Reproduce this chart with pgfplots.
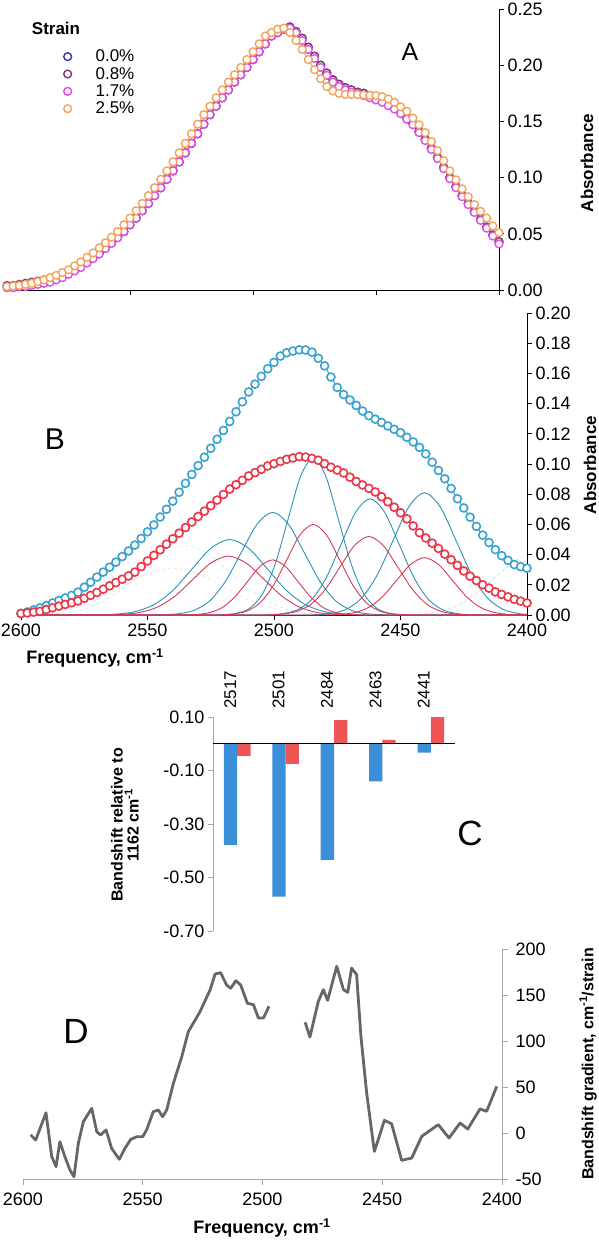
\documentclass[border=0pt]{standalone}
\usepackage{fontspec}
\setmainfont{Liberation Sans}
\usepackage{pgfplots}
\usepackage{pgfplotstable}
\pgfplotsset{compat=1.18}
\pgfplotsset{/pgf/number format/assume math mode=true, /pgf/number format/1000 sep={}}
\definecolor{cA0}{HTML}{3535B0}
\definecolor{cA1}{HTML}{7E3A72}
\definecolor{cA2}{HTML}{E04CE0}
\definecolor{cA3}{HTML}{F2A55A}
\definecolor{bBlue}{HTML}{3AA2CE}
\definecolor{bRed}{HTML}{EC3546}
\definecolor{cmpB}{HTML}{2A92B4}
\definecolor{cmpR}{HTML}{D43A5C}
\definecolor{barB}{HTML}{3A8FD8}
\definecolor{barR}{HTML}{F05555}
\definecolor{dline}{HTML}{666666}
\definecolor{dax}{HTML}{A6A6A6}

\pgfplotstableread{
f s00 s08 s17 s25
2600 .003 .004 .002 .003
2597.5 .003 .004 .002 .0035
2595 .0035 .005 .003 .004
2592.5 .004 .006 .003 .005
2590 .005 .007 .004 .006
2587.5 .006 .008 .005 .0075
2585 .0075 .009 .006 .009
2582.5 .009 .010 .007 .011
2580 .011 .012 .009 .013
2577.5 .013 .014 .011 .0155
2575 .0155 .016 .014 .018
2572.5 .018 .019 .017 .0215
2570 .0215 .022 .020 .025
2567.5 .025 .025 .024 .029
2565 .029 .029 .028 .033
2562.5 .033 .033 .032 .0375
2560 .0375 .0375 .037 .042
2557.5 .042 .042 .0415 .047
2555 .047 .047 .0465 .052
2552.5 .052 .052 .052 .058
2550 .058 .058 .058 .064
2547.5 .064 .064 .064 .0705
2545 .0705 .0705 .0705 .077
2542.5 .077 .077 .077 .084
2540 .084 .084 .084 .091
2537.5 .091 .091 .091 .0985
2535 .0985 .0985 .0985 .106
2532.5 .106 .106 .106 .114
2530 .114 .114 .114 .122
2527.5 .122 .122 .122 .1305
2525 .1305 .1305 .1305 .139
2522.5 .139 .139 .139 .1475
2520 .1475 .1475 .1475 .156
2517.5 .156 .156 .156 .1635
2515 .1635 .1635 .1635 .171
2512.5 .171 .171 .171 .178
2510 .178 .178 .178 .185
2507.5 .185 .185 .185 .1915
2505 .1915 .1915 .1915 .198
2502.5 .198 .198 .198 .205
2500 .205 .205 .205 .212
2497.5 .212 .212 .212 .219
2495 .219 .219 .219 .226
2492.5 .226 .226 .226 .229
2490 .229 .229 .229 .232
2487.5 .232 .232 .232 .233
2485 .234 .234 .233 .229
2482.5 .230 .230 .229 .222
2480 .224 .224 .222 .214
2477.5 .216 .216 .214 .205
2475 .208 .208 .206 .196
2472.5 .200 .200 .198 .188
2470 .193 .193 .191 .181
2467.5 .187 .187 .185 .177
2465 .183 .183 .181 .175
2462.5 .180 .180 .178 .174
2460 .178 .178 .176 .174
2457.5 .176 .176 .175 .1738
2455 .175 .175 .173 .1735
2452.5 .173 .173 .171 .1732
2450 .171 .171 .169 .173
2447.5 .169 .169 .167 .172
2445 .166 .166 .164 .170
2442.5 .163 .163 .161 .167
2440 .159 .159 .157 .163
2437.5 .154 .154 .152 .159
2435 .148 .148 .147 .153
2432.5 .141 .141 .140 .147
2430 .134 .134 .133 .140
2427.5 .126 .126 .125 .132
2425 .118 .118 .117 .124
2422.5 .109 .109 .108 .115
2420 .100 .100 .099 .106
2417.5 .092 .092 .091 .098
2415 .084 .084 .083 .090
2412.5 .077 .077 .076 .083
2410 .070 .070 .069 .076
2407.5 .063 .063 .062 .070
2405 .056 .056 .055 .064
2402.5 .049 .049 .048 .057
2400 .043 .043 .041 .051
}\tabA

\pgfplotstableread{
f blue red
2600 .001 .001
2597.5 .002 .0014
2595 .0034 .0019
2592.5 .0047 .0024
2590 .0063 .0036
2587.5 .0080 .0048
2585 .0097 .0059
2582.5 .0113 .0070
2580 .0130 .0081
2577.5 .0151 .0093
2575 .0184 .0111
2572.5 .0217 .0130
2570 .0251 .0149
2567.5 .0284 .0171
2565 .0317 .0193
2562.5 .0350 .0215
2560 .0387 .0237
2557.5 .0424 .0259
2555 .0463 .0284
2552.5 .0507 .0321
2550 .0551 .0358
2547.5 .0597 .0395
2545 .0649 .0432
2542.5 .0700 .0469
2540 .0754 .0505
2537.5 .0813 .0542
2535 .0872 .0579
2532.5 .0931 .0616
2530 .0989 .0652
2527.5 .1045 .0688
2525 .1104 .0724
2522.5 .1164 .0761
2520 .1222 .0798
2517.5 .1282 .0834
2515 .1346 .0863
2512.5 .1412 .0892
2510 .1477 .0921
2507.5 .1529 .0943
2505 .1581 .0965
2502.5 .1631 .0987
2500 .1673 .1002
2497.5 .1715 .1017
2495 .1737 .1031
2492.5 .1748 .1040
2490 .1756 .1049
2487.5 .1755 .1046
2485 .1741 .1037
2482.5 .1700 .1025
2480 .1650 .1002
2477.5 .1576 .0979
2475 .1507 .0960
2472.5 .1460 .0941
2470 .1424 .0913
2467.5 .1388 .0884
2465 .1351 .0861
2462.5 .1320 .0839
2460 .1297 .0815
2457.5 .1275 .0783
2455 .1252 .0750
2452.5 .1230 .0714
2450 .1207 .0677
2447.5 .1177 .0637
2445 .1146 .0590
2442.5 .1110 .0545
2440 .1067 .0510
2437.5 .1012 .0476
2435 .0957 .0441
2432.5 .0902 .0403
2430 .0838 .0366
2427.5 .0770 .0329
2425 .0709 .0292
2422.5 .0648 .0257
2420 .0587 .0228
2417.5 .0529 .0200
2415 .0480 .0178
2412.5 .0433 .0153
2410 .0393 .0136
2407.5 .0362 .0120
2405 .0334 .0104
2402.5 .0320 .0092
2400 .0310 .0080
}\tabB

\begin{document}
\begin{tikzpicture}
\useasboundingbox (0pt,0pt) rectangle (598pt,-1243pt);

% ---------------- Panel A ----------------
\begin{axis}[at={(7pt,-290pt)}, anchor=south west, scale only axis,
  width=492pt, height=281pt,
  x dir=reverse, xmin=2400, xmax=2600, ymin=0, ymax=0.25,
  axis x line=bottom, axis y line=right,
  axis line style={-, black, line width=0.9pt},
  xtick={2400,2450,2500,2550}, xticklabels={},
  ytick={0,0.05,0.1,0.15,0.2,0.25},
  scaled ticks=false,
  yticklabel style={/pgf/number format/.cd, fixed, fixed zerofill, precision=2},
  tick align=outside, major tick length=5pt, tick style={black, line width=0.9pt},
  tick label style={font=\fontsize{18}{20}\selectfont},
  clip=false,
  legend image code/.code={\draw[#1] plot coordinates {(0pt,0pt)};},
  legend style={at={(axis description cs:0.115,0.855)}, anchor=north west,
    draw=none, fill=none, inner sep=0pt, row sep=4pt, column sep=24pt,
    font=\fontsize{17}{19}\selectfont, nodes={inner sep=0pt}},
  legend cell align=left,
]
\addplot[cA0, line width=1pt, mark=*, mark size=3.9pt, mark options={fill=white, line width=1.4pt}] table[x=f, y=s00] {\tabA};
\addlegendentry{0.0\%}
\addplot[cA1, line width=1pt, mark=*, mark size=3.9pt, mark options={fill=white, line width=1.4pt}] table[x=f, y=s08] {\tabA};
\addlegendentry{0.8\%}
\addplot[cA2, line width=1pt, mark=*, mark size=3.9pt, mark options={fill=white, line width=1.4pt}] table[x=f, y=s17] {\tabA};
\addlegendentry{1.7\%}
\addplot[cA3, line width=1pt, mark=*, mark size=3.9pt, mark options={fill=white, line width=1.4pt}] table[x=f, y=s25] {\tabA};
\addlegendentry{2.5\%}
\end{axis}

% ---------------- Panel B ----------------
\begin{axis}[at={(21pt,-615pt)}, anchor=south west, scale only axis,
  width=506pt, height=302pt,
  x dir=reverse, xmin=2400, xmax=2600, ymin=0, ymax=0.2,
  axis x line=bottom, axis y line=right,
  axis line style={-, black, line width=0.9pt},
  xtick={2400,2450,2500,2550,2600},
  ytick={0,0.02,...,0.2},
  scaled ticks=false,
  yticklabel style={/pgf/number format/.cd, fixed, fixed zerofill, precision=2},
  tick align=outside, major tick length=5pt, tick style={black, line width=0.9pt},
  tick label style={font=\fontsize{18}{20}\selectfont},
  clip=false,
]
% faint background components
\addplot[pink!80!red, opacity=0.35, dashed, line width=0.8pt, smooth] coordinates {(2600,.0003)(2590,.0014)(2580,.0042)(2570,.0101)(2560,.0188)(2550,.0274)(2540,.031)(2530,.0274)(2520,.0188)(2510,.0101)(2500,.0042)(2490,.0014)(2480,.0003)(2470,0)};
\addplot[cyan!60, opacity=0.35, dashed, line width=0.8pt, smooth] coordinates {(2598,.0001)(2589,.0005)(2580,.0020)(2571,.0062)(2562,.0149)(2553,.0279)(2544,.0406)(2535,.046)(2526,.0406)(2517,.0279)(2508,.0149)(2499,.0062)(2490,.0020)(2481,.0005)(2472,.0001)};
\addplot[pink!80!red, opacity=0.35, dashed, line width=0.8pt, smooth] coordinates {(2445,.0004)(2437.5,.0016)(2430,.0049)(2422.5,.0117)(2415,.0218)(2407.5,.0318)(2400,.036)};
\addplot[cyan!60, opacity=0.35, dashed, line width=0.8pt, smooth] coordinates {(2443,.0004)(2435.5,.0018)(2428,.0055)(2420.5,.0130)(2413,.0243)(2405.5,.0353)(2400,.040)};
% blue components
\addplot[cmpB, line width=0.9pt, smooth] coordinates {(2600,0)(2577.5,0)(2570,.0001)(2562.5,.0006)(2555,.0022)(2547.5,.0068)(2540,.0162)(2532.5,.0303)(2525,.0441)(2517.5,.0500)(2510,.0441)(2502.5,.0303)(2495,.0162)(2487.5,.0068)(2480,.0022)(2472.5,.0006)(2465,.0001)(2457.5,0)(2400,0)};
\addplot[cmpB, line width=0.9pt, smooth] coordinates {(2600,0)(2550.5,0)(2544.25,.0002)(2538,.0008)(2531.75,.0030)(2525.5,.0092)(2519.25,.0221)(2513,.0412)(2506.75,.0600)(2500.5,.068)(2494.25,.0600)(2488,.0412)(2481.75,.0221)(2475.5,.0092)(2469.25,.0030)(2463,.0008)(2456.75,.0002)(2450.5,0)(2400,0)};
\addplot[cmpB, line width=0.9pt, smooth] coordinates {(2600,0)(2524.5,0)(2519.5,.0002)(2514.5,.0012)(2509.5,.0046)(2504.5,.0141)(2499.5,.0338)(2494.5,.0631)(2489.5,.0918)(2484.5,.104)(2479.5,.0918)(2474.5,.0631)(2469.5,.0338)(2464.5,.0141)(2459.5,.0046)(2454.5,.0012)(2449.5,.0002)(2444.5,0)(2400,0)};
\addplot[cmpB, line width=0.9pt, smooth] coordinates {(2600,0)(2508,0)(2502.25,.0002)(2496.5,.0009)(2490.75,.0034)(2485,.0104)(2479.25,.0250)(2473.5,.0467)(2467.75,.0680)(2462,.077)(2456.25,.0680)(2450.5,.0467)(2444.75,.0250)(2439,.0104)(2433.25,.0034)(2427.5,.0009)(2421.75,.0002)(2416,0)(2400,0)};
\addplot[cmpB, line width=0.9pt, smooth] coordinates {(2600,0)(2490.5,0)(2484.25,.0002)(2478,.0009)(2471.75,.0036)(2465.5,.0110)(2459.25,.0263)(2453,.0491)(2446.75,.0715)(2440.5,.081)(2434.25,.0715)(2428,.0491)(2421.75,.0263)(2415.5,.0110)(2409.25,.0036)(2403,.0009)(2400,.0005)};
% red components
\addplot[cmpR, line width=0.9pt, smooth] coordinates {(2600,0)(2574,0)(2567,.0001)(2560,.0004)(2553,.0017)(2546,.0053)(2539,.0127)(2532,.0237)(2525,.0344)(2518,.039)(2511,.0344)(2504,.0237)(2497,.0127)(2490,.0053)(2483,.0017)(2476,.0004)(2469,.0001)(2462,0)(2400,0)};
\addplot[cmpR, line width=0.9pt, smooth] coordinates {(2600,0)(2540.5,0)(2535.5,.0001)(2530.5,.0004)(2525.5,.0016)(2520.5,.0049)(2515.5,.0119)(2510.5,.0221)(2505.5,.0322)(2500.5,.0365)(2495.5,.0322)(2490.5,.0221)(2485.5,.0119)(2480.5,.0049)(2475.5,.0016)(2470.5,.0004)(2465.5,.0001)(2460.5,0)(2400,0)};
\addplot[cmpR, line width=0.9pt, smooth] coordinates {(2600,0)(2526.5,0)(2521.25,.0001)(2516,.0007)(2510.75,.0026)(2505.5,.0081)(2500.25,.0195)(2495,.0364)(2489.75,.0530)(2484.5,.060)(2479.25,.0530)(2474,.0364)(2468.75,.0195)(2463.5,.0081)(2458.25,.0026)(2453,.0007)(2447.75,.0001)(2442.5,0)(2400,0)};
\addplot[cmpR, line width=0.9pt, smooth] coordinates {(2600,0)(2508.5,0)(2502.75,.0001)(2497,.0006)(2491.25,.0023)(2485.5,.0070)(2479.75,.0169)(2474,.0315)(2468.25,.0459)(2462.5,.052)(2456.75,.0459)(2451,.0315)(2445.25,.0169)(2439.5,.0070)(2433.75,.0023)(2428,.0006)(2422.25,.0001)(2416.5,0)(2400,0)};
\addplot[cmpR, line width=0.9pt, smooth] coordinates {(2600,0)(2484.5,0)(2479,.0001)(2473.5,.0004)(2468,.0017)(2462.5,.0051)(2457,.0123)(2451.5,.0230)(2446,.0335)(2440.5,.038)(2435,.0335)(2429.5,.0230)(2424,.0123)(2418.5,.0051)(2413,.0017)(2407.5,.0004)(2402,.0001)(2400,0)};
% measured spectra
\addplot[bBlue, line width=1pt, mark=*, mark size=4pt, mark options={fill=white, line width=1.6pt}] table[x=f, y=blue] {\tabB};
\addplot[bRed, line width=1pt, mark=*, mark size=4pt, mark options={fill=white, line width=1.6pt}] table[x=f, y=red] {\tabB};
\end{axis}

% ---------------- Panel C ----------------
\begin{axis}[at={(213pt,-931pt)}, anchor=south west, scale only axis,
  width=242pt, height=214pt,
  ybar=0pt, bar width=13.3pt,
  xmin=-0.5, xmax=4.5, ymin=-0.7, ymax=0.1,
  axis x line*=top, axis y line*=left,
  x axis line style={draw=none}, xtick style={draw=none},
  y axis line style={-, dax, line width=0.9pt},
  ytick style={dax, line width=0.9pt},
  tick align=outside, major tick length=5pt,
  xtick={0,1,2,3,4}, xticklabels={2517,2501,2484,2463,2441},
  xticklabel style={font=\fontsize{17}{20}\selectfont, xshift=-7pt, rotate=90, anchor=west},
  ytick={-0.7,-0.5,-0.3,-0.1,0.1},
  scaled ticks=false,
  yticklabel style={font=\fontsize{18}{20}\selectfont, /pgf/number format/.cd, fixed, fixed zerofill, precision=2},
]
\addplot[fill=barB, draw=none] coordinates {(0,-0.379) (1,-0.571) (2,-0.434) (3,-0.141) (4,-0.033)};
\addplot[fill=barR, draw=none] coordinates {(0,-0.045) (1,-0.075) (2,0.088) (3,0.015) (4,0.100)};
\draw[black, line width=1pt] (axis cs:-0.5,0) -- (axis cs:4.5,0);
\end{axis}

% ---------------- Panel D ----------------
\begin{axis}[at={(23pt,-1179pt)}, anchor=south west, scale only axis,
  width=479pt, height=230pt,
  x dir=reverse, xmin=2400, xmax=2600, ymin=-50, ymax=200,
  axis x line=bottom, axis y line=right,
  axis line style={-, dax, line width=0.9pt},
  xtick={2400,2450,2500,2550,2600},
  ytick={-50,0,50,100,150,200},
  scaled ticks=false,
  tick align=outside, major tick length=6pt, tick style={dax, line width=0.9pt},
  tick label style={font=\fontsize{18}{20}\selectfont},
  yticklabel style={xshift=4pt},
  xticklabel style={yshift=-4pt},
]
\addplot[dline, line width=2.8pt, line join=round] coordinates {(2596.8,-2)(2594.7,-7.6)(2590.4,22)(2588,-25.7)(2586.2,-36.6)(2584.6,-9.4)(2582.5,-25.7)(2580.4,-40.2)(2578.7,-47.5)(2576.9,-11.2)(2574.8,12.3)(2571.3,26.8)(2569.2,1.4)(2567.6,-2.2)(2565.3,3.3)(2563,-16.6)(2559.8,-28.6)(2557.4,-16.6)(2555,-6.9)(2552.5,-4)(2550,-4)(2548.4,3.3)(2545.6,23.2)(2543.5,25)(2541.7,17.7)(2540,25)(2537.2,54)(2533.7,83)(2531,110)(2526.1,131.8)(2521.9,155.4)(2519.8,172.8)(2517.5,174.3)(2515,160.9)(2513.3,157.3)(2511.1,165.6)(2509.1,160.9)(2506.3,141)(2503.8,139.5)(2501.7,125)(2499.6,125)(2497.3,137.7)};
\addplot[dline, line width=2.8pt, line join=round] coordinates {(2482.2,120.3)(2480.2,104.3)(2476.7,143)(2474.6,155.8)(2472.8,144.2)(2469.0,181.2)(2466.2,155.8)(2464.4,152.9)(2462.8,179.3)(2460.7,172.1)(2458.9,105)(2456.5,43.5)(2453.3,-20)(2451.9,-9)(2449.1,13.8)(2446.1,10.1)(2441.9,-29.7)(2437.7,-27.2)(2433.5,-3.6)(2426.6,9.1)(2422.1,-5.4)(2417.5,10.9)(2414.3,4.3)(2409.2,26.1)(2406.4,23.6)(2402.2,50.7)};
\end{axis}

% ---------------- Labels ----------------
\node[font=\bfseries\fontsize{17}{19}\selectfont] at (56pt,-28pt) {Strain};
\node[font=\fontsize{25}{28}\selectfont] at (410pt,-52pt) {A};
\node[font=\bfseries\fontsize{17}{19}\selectfont, rotate=90] at (587pt,-163pt) {Absorbance};
\node[font=\fontsize{30}{34}\selectfont] at (55pt,-439pt) {B};
\node[font=\bfseries\fontsize{17}{19}\selectfont, rotate=90] at (590pt,-465pt) {Absorbance};
\node[font=\bfseries\fontsize{18}{20}\selectfont] at (95pt,-658pt) {Frequency, cm\textsuperscript{-1}};
\node[font=\fontsize{35}{40}\selectfont] at (470pt,-833pt) {C};
\node[font=\bfseries\fontsize{16}{16}\selectfont, rotate=90, align=center] at (125pt,-825pt) {Bandshift relative to\\1162 cm\textsuperscript{-1}};
\node[font=\fontsize{35}{40}\selectfont] at (76pt,-1031pt) {D};
\node[font=\bfseries\fontsize{18}{20}\selectfont] at (262pt,-1228pt) {Frequency, cm\textsuperscript{-1}};
\node[font=\bfseries\fontsize{16}{18}\selectfont, rotate=90] at (588pt,-1064pt) {Bandshift gradient, cm\textsuperscript{-1}/strain};
\end{tikzpicture}
\end{document}
